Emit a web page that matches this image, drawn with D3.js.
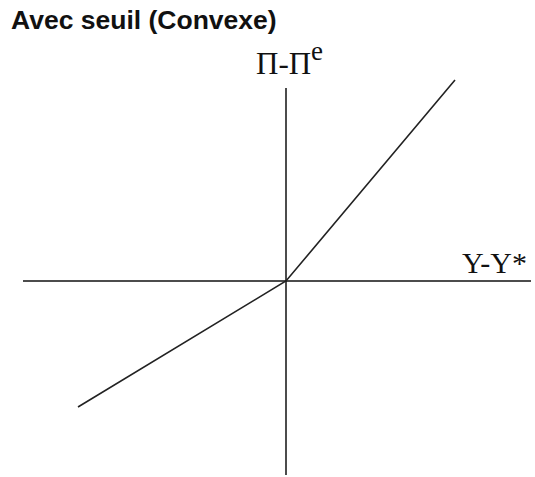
<!DOCTYPE html>
<html>
<head>
<meta charset="utf-8">
<script src="https://cdn.jsdelivr.net/npm/d3@7"></script>
<style>
    body { margin: 0; background: #fff; }
    svg { display: block; }
</style>
</head>
<body>
<div id="chart"></div>
<script>
// Phillips curve with threshold (convex): kinked line through the origin
const title = 'Avec seuil (Convexe)';
const xAxisLabel = 'Y-Y*';
const yAxisLabel = 'Π-Π';
const yAxisSup = 'e';

// axis extents (data units)
const xExtent = [-2.63, 2.45];
const yExtent = [-1.94, 1.93];

// the curve: lower branch, kink at origin, steeper upper branch
const curveX = [-2.08, 0, 1.69];
const curveY = [-1.26, 0, 2.01];

const width = 535;
const height = 477;
const margin = { top: 88, right: 4, bottom: 2, left: 23 };

const svg = d3.select('#chart')
    .append('svg')
    .attr('width', width)
    .attr('height', height);

const xScale = d3.scaleLinear()
    .domain(xExtent)
    .range([margin.left, width - margin.right]);

const yScale = d3.scaleLinear()
    .domain(yExtent)
    .range([height - margin.bottom, margin.top]);

// Title
svg.append('text')
    .attr('x', 11)
    .attr('y', 29)
    .style('font-family', '"Liberation Sans", Arial, sans-serif')
    .style('font-weight', 'bold')
    .style('font-size', '26.5px')
    .style('fill', '#111')
    .text(title);

// Axes through the origin
svg.append('line')
    .attr('x1', xScale(xExtent[0]))
    .attr('x2', xScale(xExtent[1]))
    .attr('y1', yScale(0))
    .attr('y2', yScale(0))
    .style('stroke', '#111')
    .style('stroke-width', 1.5);

svg.append('line')
    .attr('x1', xScale(0))
    .attr('x2', xScale(0))
    .attr('y1', yScale(yExtent[0]))
    .attr('y2', yScale(yExtent[1]))
    .style('stroke', '#111')
    .style('stroke-width', 1.5);

// Curve
const line = d3.line()
    .x((d, i) => xScale(curveX[i]))
    .y(d => yScale(d));

svg.append('path')
    .datum(curveY)
    .attr('d', line)
    .style('fill', 'none')
    .style('stroke', '#222')
    .style('stroke-width', 1.6);

// Axis labels
const labelFont = '"Liberation Serif", "Times New Roman", serif';

const yLab = svg.append('text')
    .attr('x', xScale(0) - 30)
    .attr('y', 74)
    .style('font-family', labelFont)
    .style('font-size', '31px')
    .style('fill', '#111');
yLab.append('tspan').text(yAxisLabel);
yLab.append('tspan')
    .attr('dy', -14)
    .style('font-size', '27px')
    .text(yAxisSup);

svg.append('text')
    .attr('x', 462)
    .attr('y', 273)
    .style('font-family', labelFont)
    .style('font-size', '30px')
    .style('fill', '#111')
    .text(xAxisLabel);
</script>
</body>
</html>
